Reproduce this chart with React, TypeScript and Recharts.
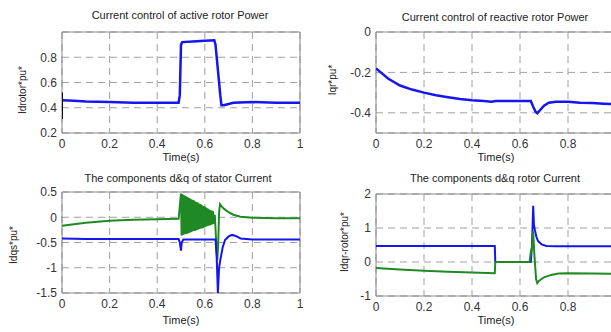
import React from "react"
import { LineChart, Line, XAxis, YAxis, CartesianGrid, ReferenceArea } from "recharts"

type Pt = [number, number]

const timeTicks = [0, 0.2, 0.4, 0.6, 0.8, 1]
// right-hand panels are cut at the page edge before t = 1
const timeTicksCut = [0, 0.2, 0.4, 0.6, 0.8]

// top left: active rotor current
const idRotorRef: Pt[] = [[0, 0.52], [0, 0.31]]
const idRotor: Pt[] = [
  [0, 0.46], [0.05, 0.455], [0.1, 0.45], [0.2, 0.445], [0.3, 0.44], [0.4, 0.44], [0.49, 0.44],
  [0.495, 0.5], [0.5, 0.9], [0.505, 0.92], [0.55, 0.925], [0.6, 0.93], [0.64, 0.935],
  [0.645, 0.9], [0.655, 0.7], [0.665, 0.5], [0.67, 0.42], [0.68, 0.42], [0.7, 0.43],
  [0.72, 0.44], [0.8, 0.445], [0.9, 0.44], [1, 0.44],
]
const idRotorTicks = [0.2, 0.4, 0.6, 0.8]

// top right: reactive rotor current
const iqRotor: Pt[] = [
  [0, -0.18], [0.02, -0.2], [0.05, -0.23], [0.1, -0.265], [0.15, -0.285], [0.2, -0.3],
  [0.25, -0.313], [0.3, -0.323], [0.35, -0.332], [0.4, -0.338], [0.45, -0.342], [0.48, -0.345],
  [0.5, -0.342], [0.55, -0.342], [0.6, -0.342], [0.645, -0.342], [0.655, -0.37], [0.665, -0.395],
  [0.672, -0.402], [0.685, -0.385], [0.7, -0.365], [0.72, -0.35], [0.75, -0.345], [0.8, -0.345],
  [0.85, -0.35], [0.9, -0.352], [0.95, -0.355], [1, -0.357],
]
const iqRotorTicks = [-0.4, -0.2, 0]

// bottom left: stator current d & q
const iqStator: Pt[] = [
  [0, -0.17], [0.05, -0.14], [0.1, -0.11], [0.2, -0.07], [0.3, -0.05], [0.4, -0.04], [0.49, -0.03],
  [0.5, 0.47], [0.5025, -0.36], [0.505, 0.46], [0.5075, -0.35], [0.51, 0.44], [0.5125, -0.34],
  [0.515, 0.43], [0.5175, -0.33], [0.52, 0.42], [0.5225, -0.33], [0.525, 0.4], [0.5275, -0.32],
  [0.53, 0.39], [0.5325, -0.31], [0.535, 0.38], [0.5375, -0.3], [0.54, 0.36], [0.5425, -0.29],
  [0.545, 0.35], [0.5475, -0.28], [0.55, 0.34], [0.5525, -0.27], [0.555, 0.33], [0.5575, -0.27],
  [0.56, 0.31], [0.5625, -0.26], [0.565, 0.3], [0.5675, -0.25], [0.57, 0.29], [0.5725, -0.24],
  [0.575, 0.27], [0.5775, -0.23], [0.58, 0.26], [0.5825, -0.22], [0.585, 0.25], [0.5875, -0.22],
  [0.59, 0.23], [0.5925, -0.21], [0.595, 0.22], [0.5975, -0.2], [0.6, 0.21], [0.6025, -0.19],
  [0.605, 0.19], [0.6075, -0.18], [0.61, 0.18], [0.6125, -0.17], [0.615, 0.17], [0.6175, -0.17],
  [0.62, 0.15], [0.6225, -0.16], [0.625, 0.14], [0.6275, -0.15], [0.63, 0.13], [0.6325, -0.14],
  [0.635, 0.12], [0.6375, -0.13], [0.642, 0.05], [0.648, -0.5], [0.652, -0.85], [0.656, -0.6],
  [0.66, 0.1], [0.664, 0.26], [0.67, 0.22], [0.68, 0.17], [0.7, 0.1], [0.72, 0.05], [0.75, 0.01],
  [0.8, -0.01], [0.9, -0.02], [1, -0.02],
]
const idStator: Pt[] = [
  [0, -0.42], [0.1, -0.43], [0.2, -0.43], [0.3, -0.43], [0.4, -0.43], [0.49, -0.43], [0.495, -0.5],
  [0.5, -0.66], [0.503, -0.5], [0.51, -0.44], [0.55, -0.44], [0.6, -0.44], [0.645, -0.44],
  [0.65, -0.8], [0.655, -1.5], [0.66, -1.0], [0.665, -0.85], [0.675, -0.6], [0.685, -0.45],
  [0.7, -0.38], [0.715, -0.35], [0.73, -0.37], [0.75, -0.42], [0.8, -0.44], [0.9, -0.44], [1, -0.44],
]
const statorTicks = [-1.5, -1, -0.5, 0, 0.5]

// bottom right: rotor current d & q
const idqRotorD: Pt[] = [
  [0, 0.47], [0.1, 0.47], [0.2, 0.47], [0.3, 0.47], [0.4, 0.47], [0.495, 0.47], [0.497, 0],
  [0.55, 0], [0.6, 0], [0.645, 0], [0.65, 0.5], [0.655, 1.65], [0.658, 1.1], [0.662, 0.95],
  [0.668, 0.75], [0.675, 0.62], [0.69, 0.52], [0.71, 0.47], [0.75, 0.46], [0.8, 0.46], [0.9, 0.46], [1, 0.46],
]
const idqRotorQ: Pt[] = [
  [0, -0.18], [0.1, -0.22], [0.2, -0.26], [0.3, -0.29], [0.4, -0.31], [0.495, -0.33], [0.497, 0],
  [0.55, 0], [0.64, 0], [0.645, 0.3], [0.65, 0.4], [0.655, 0.9], [0.66, 0.2], [0.667, -0.5],
  [0.672, -0.62], [0.68, -0.55], [0.7, -0.45], [0.73, -0.38], [0.76, -0.34], [0.8, -0.33],
  [0.9, -0.34], [1, -0.35],
]
const rotorTicks = [-1, 0, 1, 2]

const BLUE = "#1515f0"
const GREEN = "#1f8a24"

const toRows = (pts: Pt[]) => pts.map(([t, v]) => ({ t, v }))

type Series = { pts: Pt[]; color: string; width: number }

function Panel(props: {
  left: number
  top: number
  width: number
  height: number
  marginTop: number
  marginRight: number
  yWidth: number
  xHeight: number
  xTicks: number[]
  yDomain: [number, number]
  yTicks: number[]
  series: Series[]
}) {
  const { left, top, width, height, yDomain, yTicks, series } = props
  return (
    <div style={{ position: "absolute", left, top }}>
      <LineChart
        width={width}
        height={height}
        margin={{ top: props.marginTop, right: props.marginRight, left: 0, bottom: 0 }}
      >
        <CartesianGrid stroke="#a0a0a0" strokeDasharray="7 5" />
        <XAxis
          dataKey="t"
          type="number"
          domain={[0, 1]}
          ticks={props.xTicks}
          allowDataOverflow
          height={props.xHeight}
          axisLine={false}
          tickLine={false}
          tickSize={3}
          tickMargin={3}
          tick={{ fontSize: 12, fill: "#333" }}
        />
        <YAxis
          type="number"
          domain={yDomain}
          ticks={yTicks}
          allowDataOverflow
          width={props.yWidth}
          axisLine={false}
          tickLine={false}
          tickSize={3}
          tickMargin={2}
          tick={{ fontSize: 12, fill: "#333" }}
        />
        <ReferenceArea x1={0} x2={1} y1={yDomain[0]} y2={yDomain[1]} fill="none" stroke="#888" strokeWidth={1} />
        {series.map((s, i) => (
          <Line
            key={i}
            data={toRows(s.pts)}
            dataKey="v"
            type="linear"
            stroke={s.color}
            strokeWidth={s.width}
            dot={false}
            isAnimationActive={false}
          />
        ))}
      </LineChart>
    </div>
  )
}

const text = (x: number, y: number, s: string, size = 11, rotate = false) => (
  <div
    style={{
      position: "absolute",
      left: x - 150,
      top: y - 8,
      width: 300,
      height: 16,
      lineHeight: "16px",
      textAlign: "center",
      fontSize: size,
      color: "#222",
      whiteSpace: "nowrap",
      transform: rotate ? "rotate(-90deg)" : undefined,
    }}
  >
    {s}
  </div>
)

export default function App() {
  return (
    <div
      style={{
        position: "absolute",
        left: 0,
        top: 0,
        width: 611,
        height: 332,
        overflow: "hidden",
        background: "#fff",
        fontFamily: "'Liberation Sans', Arial, sans-serif",
      }}
    >
      <Panel
        left={0} top={0} width={310} height={165} marginTop={32} marginRight={10}
        yWidth={62} xHeight={32} xTicks={timeTicks} yDomain={[0.2, 1]} yTicks={idRotorTicks}
        series={[
          { pts: idRotor, color: BLUE, width: 2.5 },
          { pts: idRotorRef, color: "#111", width: 2 },
        ]}
      />
      <Panel
        left={300} top={0} width={320} height={165} marginTop={32} marginRight={4}
        yWidth={76} xHeight={32} xTicks={timeTicksCut} yDomain={[-0.5, 0]} yTicks={iqRotorTicks}
        series={[{ pts: iqRotor, color: BLUE, width: 2.5 }]}
      />
      <Panel
        left={0} top={165} width={310} height={167} marginTop={27} marginRight={10}
        yWidth={62} xHeight={39} xTicks={timeTicks} yDomain={[-1.5, 0.5]} yTicks={statorTicks}
        series={[
          { pts: iqStator, color: GREEN, width: 2 },
          { pts: idStator, color: BLUE, width: 2 },
        ]}
      />
      <Panel
        left={300} top={165} width={320} height={167} marginTop={29} marginRight={4}
        yWidth={76} xHeight={36} xTicks={timeTicksCut} yDomain={[-1, 2]} yTicks={rotorTicks}
        series={[
          { pts: idqRotorD, color: BLUE, width: 2 },
          { pts: idqRotorQ, color: GREEN, width: 2 },
        ]}
      />

      {text(180, 15, "Current control of active rotor Power")}
      {text(495, 17, "Current control of reactive rotor Power")}
      {text(178, 178, "The components d&q of stator Current")}
      {text(495, 178, "The components d&q rotor Current")}

      {text(181, 157, "Time(s)")}
      {text(496, 157, "Time(s)")}
      {text(181, 320, "Time(s)")}
      {text(496, 320, "Time(s)")}

      {text(23, 90, "Idrotor*pu*", 10, true)}
      {text(333, 80, "Iqr*pu*", 10, true)}
      {text(14, 245, "Idqs*pu*", 10, true)}
      {text(345, 242, "Idqr-rotor*pu*", 10, true)}
    </div>
  )
}
